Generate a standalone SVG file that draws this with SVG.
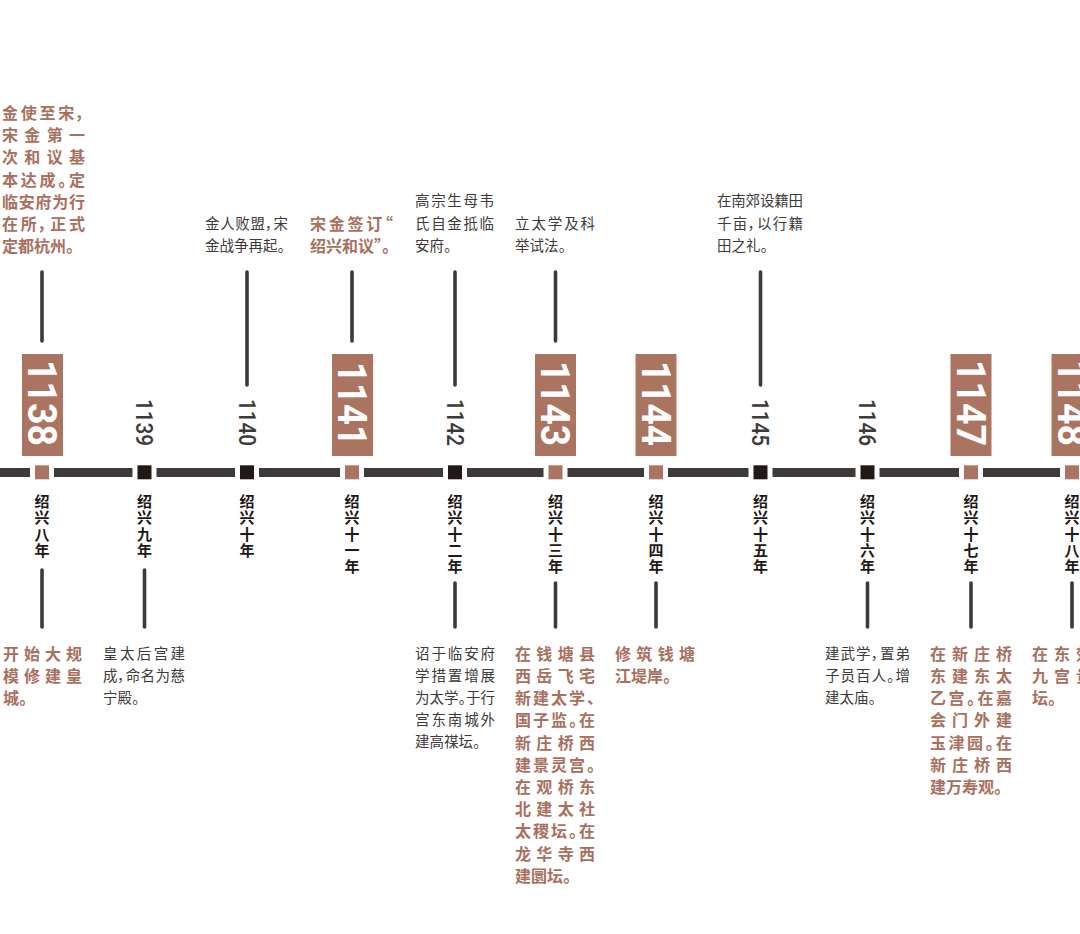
<svg xmlns="http://www.w3.org/2000/svg" width="1080" height="934" viewBox="0 0 1080 934">
<style>
.dk{font-family:"Noto Sans CJK SC","Noto Sans",sans-serif;font-size:14.5px;fill:#3e3a39;font-feature-settings:"palt"}
.br{font-family:"Noto Sans CJK SC","Noto Sans",sans-serif;font-size:16px;font-weight:700;fill:#a9705d;font-feature-settings:"palt"}
.rg{font-family:"Noto Sans CJK SC","Noto Sans",sans-serif;font-size:15px;font-weight:700;fill:#231815;writing-mode:vertical-rl;letter-spacing:1.3px}
.yb{font-family:Roboto,"Liberation Sans",sans-serif;font-size:40px;font-weight:700;fill:#fff;text-anchor:end}
.ys{font-family:Roboto,"Liberation Sans",sans-serif;font-size:24px;font-weight:500;fill:#3e3a39;text-anchor:end}
.box{fill:#aa7460}
.mb{fill:#aa7460}
.mk{fill:#231815}
.tl{fill:#3e3a39}
.vl{stroke:#3e3a39;stroke-width:3.6;stroke-linecap:round;fill:none}
</style>
<g id="connectors">
<rect class="tl" x="0" y="468" width="30" height="9"/>
<rect class="tl" x="54" y="468" width="78.5" height="9"/>
<rect class="tl" x="156.5" y="468" width="78.5" height="9"/>
<rect class="tl" x="259" y="468" width="81" height="9"/>
<rect class="tl" x="364" y="468" width="79" height="9"/>
<rect class="tl" x="467" y="468" width="76.5" height="9"/>
<rect class="tl" x="567.5" y="468" width="76.5" height="9"/>
<rect class="tl" x="668" y="468" width="80.5" height="9"/>
<rect class="tl" x="772.5" y="468" width="83" height="9"/>
<rect class="tl" x="879.5" y="468" width="79.5" height="9"/>
<rect class="tl" x="983" y="468" width="77" height="9"/>
<line class="vl" x1="42" y1="272" x2="42" y2="341"/>
<line class="vl" x1="247" y1="272" x2="247" y2="385"/>
<line class="vl" x1="352" y1="272" x2="352" y2="341"/>
<line class="vl" x1="455" y1="272" x2="455" y2="385"/>
<line class="vl" x1="555.5" y1="272" x2="555.5" y2="341"/>
<line class="vl" x1="760.5" y1="272" x2="760.5" y2="385"/>
<line class="vl" x1="42" y1="570" x2="42" y2="627"/>
<line class="vl" x1="144.5" y1="570" x2="144.5" y2="627"/>
<line class="vl" x1="455" y1="583" x2="455" y2="627"/>
<line class="vl" x1="555.5" y1="583" x2="555.5" y2="627"/>
<line class="vl" x1="656" y1="583" x2="656" y2="627"/>
<line class="vl" x1="867.5" y1="583" x2="867.5" y2="627"/>
<line class="vl" x1="971" y1="583" x2="971" y2="627"/>
<line class="vl" x1="1072" y1="583" x2="1072" y2="627"/>
</g>

<g id="y1138">
<rect class="box" x="22" y="354" width="41" height="102"/>
<text class="yb" transform="translate(27.8,446) rotate(90)" textLength="86" lengthAdjust="spacingAndGlyphs">1138</text>
<rect class="mb" x="35" y="465.3" width="14" height="14"/>
<text class="rg" x="42" y="494">绍兴八年</text>
<g class="br">
<text x="2" y="118.6" textLength="83" lengthAdjust="spacing">金使至宋，</text>
<text x="2" y="140.9" textLength="83" lengthAdjust="spacing">宋金第一</text>
<text x="2" y="163.2" textLength="83" lengthAdjust="spacing">次和议基</text>
<text x="2" y="185.5" textLength="83" lengthAdjust="spacing">本达成。定</text>
<text x="2" y="207.8" textLength="83" lengthAdjust="spacing">临安府为行</text>
<text x="2" y="230.1" textLength="83" lengthAdjust="spacing">在所，正式</text>
<text x="2" y="252.4">定都杭州。</text>
</g>
<g class="br">
<text x="3" y="659.8" textLength="79" lengthAdjust="spacing">开始大规</text>
<text x="3" y="682" textLength="79" lengthAdjust="spacing">模修建皇</text>
<text x="3" y="704.2">城。</text>
</g>
</g>

<g id="y1139">
<text class="ys" transform="translate(136,446) rotate(90)" textLength="47" lengthAdjust="spacingAndGlyphs">1139</text>
<rect class="mk" x="137.5" y="465.3" width="14" height="14"/>
<text class="rg" x="144.5" y="494">绍兴九年</text>
<g class="dk">
<text x="103" y="658.6" textLength="82" lengthAdjust="spacing">皇太后宫建</text>
<text x="103" y="680.8" textLength="82" lengthAdjust="spacing">成，命名为慈</text>
<text x="103" y="703">宁殿。</text>
</g>
</g>

<g id="y1140">
<text class="ys" transform="translate(238.5,446) rotate(90)" textLength="47" lengthAdjust="spacingAndGlyphs">1140</text>
<rect class="mk" x="240" y="465.3" width="14" height="14"/>
<text class="rg" x="247" y="494">绍兴十年</text>
<g class="dk">
<text x="205" y="228.7" textLength="83" lengthAdjust="spacing">金人败盟，宋</text>
<text x="205" y="251">金战争再起。</text>
</g>
</g>

<g id="y1141">
<rect class="box" x="332" y="354" width="41" height="102"/>
<text class="yb" transform="translate(338,446) rotate(90)" textLength="84" lengthAdjust="spacingAndGlyphs">1141</text>
<rect class="mb" x="345" y="465.3" width="14" height="14"/>
<text class="rg" x="352" y="494">绍兴十一年</text>
<g class="br">
<text x="310" y="230.1" textLength="83" lengthAdjust="spacing">宋金签订“</text>
<text x="310" y="252.4">绍兴和议”。</text>
</g>
</g>

<g id="y1142">
<text class="ys" transform="translate(446.5,446) rotate(90)" textLength="47" lengthAdjust="spacingAndGlyphs">1142</text>
<rect class="mk" x="448" y="465.3" width="14" height="14"/>
<text class="rg" x="455" y="494">绍兴十二年</text>
<g class="dk">
<text x="415" y="206.4" textLength="79" lengthAdjust="spacing">高宗生母韦</text>
<text x="415" y="228.7" textLength="79" lengthAdjust="spacing">氏自金抵临</text>
<text x="415" y="251">安府。</text>
</g>
<g class="dk">
<text x="415" y="658.6" textLength="80" lengthAdjust="spacing">诏于临安府</text>
<text x="415" y="680.8" textLength="80" lengthAdjust="spacing">学措置增展</text>
<text x="415" y="703" textLength="80" lengthAdjust="spacing">为太学。于行</text>
<text x="415" y="725.2" textLength="80" lengthAdjust="spacing">宫东南城外</text>
<text x="415" y="747.4">建高禖坛。</text>
</g>
</g>

<g id="y1143">
<rect class="box" x="535" y="354" width="41" height="102"/>
<text class="yb" transform="translate(541.3,446) rotate(90)" textLength="85" lengthAdjust="spacingAndGlyphs">1143</text>
<rect class="mb" x="548.5" y="465.3" width="14" height="14"/>
<text class="rg" x="555.5" y="494">绍兴十三年</text>
<g class="dk">
<text x="515" y="228.7" textLength="80" lengthAdjust="spacing">立太学及科</text>
<text x="515" y="251">举试法。</text>
</g>
<g class="br">
<text x="515" y="659.8" textLength="80" lengthAdjust="spacing">在钱塘县</text>
<text x="515" y="682" textLength="80" lengthAdjust="spacing">西岳飞宅</text>
<text x="515" y="704.2" textLength="80" lengthAdjust="spacing">新建太学、</text>
<text x="515" y="726.4" textLength="80" lengthAdjust="spacing">国子监。在</text>
<text x="515" y="748.6" textLength="80" lengthAdjust="spacing">新庄桥西</text>
<text x="515" y="770.8" textLength="80" lengthAdjust="spacing">建景灵宫。</text>
<text x="515" y="793" textLength="80" lengthAdjust="spacing">在观桥东</text>
<text x="515" y="815.2" textLength="80" lengthAdjust="spacing">北建太社</text>
<text x="515" y="837.4" textLength="80" lengthAdjust="spacing">太稷坛。在</text>
<text x="515" y="859.6" textLength="80" lengthAdjust="spacing">龙华寺西</text>
<text x="515" y="881.8">建圜坛。</text>
</g>
</g>

<g id="y1144">
<rect class="box" x="635.5" y="354" width="41" height="102"/>
<text class="yb" transform="translate(641.8,446) rotate(90)" textLength="85" lengthAdjust="spacingAndGlyphs">1144</text>
<rect class="mb" x="649" y="465.3" width="14" height="14"/>
<text class="rg" x="656" y="494">绍兴十四年</text>
<g class="br">
<text x="615" y="659.8" textLength="80" lengthAdjust="spacing">修筑钱塘</text>
<text x="615" y="682">江堤岸。</text>
</g>
</g>

<g id="y1145">
<text class="ys" transform="translate(752,446) rotate(90)" textLength="47" lengthAdjust="spacingAndGlyphs">1145</text>
<rect class="mk" x="753.5" y="465.3" width="14" height="14"/>
<text class="rg" x="760.5" y="494">绍兴十五年</text>
<g class="dk">
<text x="717" y="206.4" textLength="86" lengthAdjust="spacing">在南郊设籍田</text>
<text x="717" y="228.7" textLength="86" lengthAdjust="spacing">千亩，以行籍</text>
<text x="717" y="251">田之礼。</text>
</g>
</g>

<g id="y1146">
<text class="ys" transform="translate(859,446) rotate(90)" textLength="47" lengthAdjust="spacingAndGlyphs">1146</text>
<rect class="mk" x="860.5" y="465.3" width="14" height="14"/>
<text class="rg" x="867.5" y="494">绍兴十六年</text>
<g class="dk">
<text x="825" y="658.6" textLength="85" lengthAdjust="spacing">建武学，置弟</text>
<text x="825" y="680.8" textLength="85" lengthAdjust="spacing">子员百人。增</text>
<text x="825" y="703">建太庙。</text>
</g>
</g>

<g id="y1147">
<rect class="box" x="950.5" y="354" width="41" height="102"/>
<text class="yb" transform="translate(956.8,446) rotate(90)" textLength="86" lengthAdjust="spacingAndGlyphs">1147</text>
<rect class="mb" x="964" y="465.3" width="14" height="14"/>
<text class="rg" x="971" y="494">绍兴十七年</text>
<g class="br">
<text x="930" y="659.8" textLength="82" lengthAdjust="spacing">在新庄桥</text>
<text x="930" y="682" textLength="82" lengthAdjust="spacing">东建东太</text>
<text x="930" y="704.2" textLength="82" lengthAdjust="spacing">乙宫。在嘉</text>
<text x="930" y="726.4" textLength="82" lengthAdjust="spacing">会门外建</text>
<text x="930" y="748.6" textLength="82" lengthAdjust="spacing">玉津园。在</text>
<text x="930" y="770.8" textLength="82" lengthAdjust="spacing">新庄桥西</text>
<text x="930" y="793">建万寿观。</text>
</g>
</g>

<g id="y1148">
<rect class="box" x="1051.5" y="354" width="41" height="102"/>
<text class="yb" transform="translate(1057.8,446) rotate(90)" textLength="86" lengthAdjust="spacingAndGlyphs">1148</text>
<rect class="mb" x="1065" y="465.3" width="14" height="14"/>
<text class="rg" x="1072" y="494">绍兴十八年</text>
<g class="br">
<text x="1032" y="659.8" textLength="82" lengthAdjust="spacing">在东郊建</text>
<text x="1032" y="682" textLength="82" lengthAdjust="spacing">九宫贵神</text>
<text x="1032" y="704.2">坛。</text>
</g>
</g>
</svg>
